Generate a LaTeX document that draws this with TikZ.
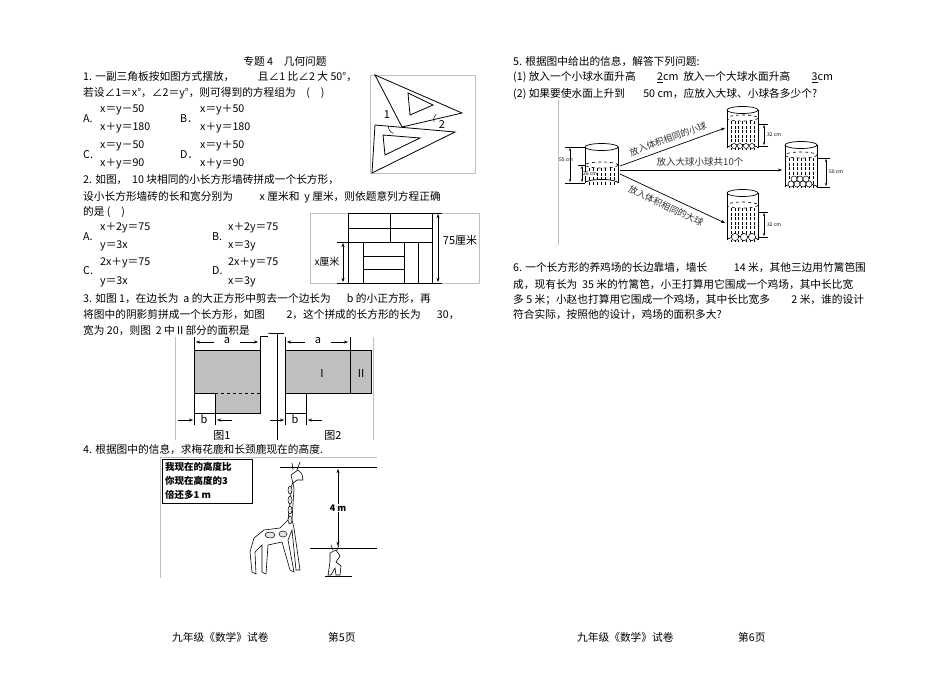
\documentclass[tikz,border=0pt]{standalone}
\usepackage{fontspec}
\setmainfont{Noto Sans CJK SC}
\newfontfamily\serifcn{Noto Sans CJK SC}
\usetikzlibrary{arrows.meta}
\begin{document}
\begin{tikzpicture}[x=1pt,y=-1pt,
  txt/.style={anchor=west,inner sep=0pt,font=\fontsize{10.7}{12}\selectfont},
  sm/.style={inner sep=0pt,font=\fontsize{8}{9}\selectfont},
  tiny/.style={inner sep=0pt,font=\fontsize{5}{6}\selectfont},
  fig/.style={line width=0.8pt},
  frame/.style={draw=black!25,line width=0.4pt},
  dim/.style={-{Stealth[length=4pt]},line width=0.5pt}]
\useasboundingbox (0,0) rectangle (950,672);
\fill[white] (0,0) rectangle (950,672);
% ---------- left page ----------
\node[txt,anchor=center] (title) at (285,61) {专题 4\quad 几何问题};
\node[txt] (q1a) at (83,77) {1. 一副三角板按如图方式摆放，\hspace{2.2em}且∠1 比∠2 大 50°，};
\node[txt] (q1b) at (83,93) {若设∠1＝x°，∠2＝y°，则可得到的方程组为\quad (\quad)};
\node[txt] (oA) at (83,119) {A.}; \node[txt] at (100,110) {x＝y－50}; \node[txt] at (100,128) {x＋y＝180};
\node[txt] (oB) at (180,119) {B．}; \node[txt] at (200,110) {x＝y＋50}; \node[txt] at (200,128) {x＋y＝180};
\node[txt] (oC) at (83,155) {C.}; \node[txt] at (100,146) {x＝y－50}; \node[txt] at (100,164) {x＋y＝90};
\node[txt] (oD) at (180,155) {D．}; \node[txt] at (200,146) {x＝y＋50}; \node[txt] at (200,164) {x＋y＝90};
% triangles
\draw[frame] (370,75) rectangle (475,173);
\draw[fig] (375,75) -- (462,113) -- (402,127) -- cycle;
\draw[fig] (408,93) -- (433,105) -- (410,115) -- cycle;
\draw[fill=white,fig] (375,125) -- (455,132) -- (372,173) -- cycle;
\draw[fig] (383,135) -- (420,138) -- (385,155) -- cycle;
\draw[line width=0.5pt] (388,126) arc[start angle=180,end angle=110,radius=8];
\draw[line width=0.5pt] (434,122) arc[start angle=160,end angle=230,radius=7];
\node[sm,font=\serifcn\fontsize{11}{12}\selectfont] (l1) at (387,115) {1};
\node[sm,font=\serifcn\fontsize{11}{12}\selectfont] (l2) at (442,125) {2};
% Q2
\node[txt] (q2a) at (83,180) {2. 如图，\ \ 10 块相同的小长方形墙砖拼成一个长方形，};
\node[txt] (q2b) at (83,197) {设小长方形墙砖的长和宽分别为\hspace{2.5em}x 厘米和\ \ y 厘米，则依题意列方程正确};
\node[txt] (q2c) at (83,212) {的是 (\quad)};
\node[txt] at (83,237) {A.}; \node[txt] at (100,228) {x＋2y＝75}; \node[txt] at (100,246) {y＝3x};
\node[txt] at (212,237) {B.}; \node[txt] at (228,228) {x＋2y＝75}; \node[txt] at (228,246) {x＝3y};
\node[txt] at (83,271) {C.}; \node[txt] at (100,263) {2x＋y＝75}; \node[txt] at (100,282) {y＝3x};
\node[txt] at (212,271) {D.}; \node[txt] at (228,263) {2x＋y＝75}; \node[txt] at (228,282) {x＝3y};
\draw[frame] (310,213) rectangle (479,283);
\draw[line width=0.7pt] (348,213) rectangle (432,283);
\draw[line width=0.7pt] (348,228) -- (432,228) (348,242) -- (432,242) (390,213) -- (390,242);
\draw[line width=0.7pt] (363,242) -- (363,283) (404,242) -- (404,283) (418,242) -- (418,283);
\draw[line width=0.7pt] (363,256) -- (404,256) (363,269) -- (404,269);
\draw[line width=0.5pt] (432,213) -- (442,213) (432,283) -- (442,283) (337,242) -- (348,242) (337,283) -- (348,283);
\draw[dim,{Stealth[length=4pt]}-{Stealth[length=4pt]}] (438,214) -- (438,282);
\draw[dim,{Stealth[length=4pt]}-{Stealth[length=4pt]}] (343,243) -- (343,282);
\node[sm,font=\serifcn\fontsize{11}{12}\selectfont] (l75) at (460,240) {75厘米};
\node[sm,font=\serifcn\fontsize{10}{12}\selectfont] (lx) at (327,262) {\textit{x}厘米};
% Q3
\node[txt] (q3a) at (83,299) {3. 如图 1，在边长为\ \ a 的大正方形中剪去一个边长为\hspace{1.5em}b 的小正方形，再};
\node[txt] (q3b) at (83,315) {将图中的阴影剪拼成一个长方形，如图\hspace{2em}2，这个拼成的长方形的长为\hspace{1.5em}30，};
\node[txt] (q3c) at (83,331) {宽为 20，则图\ \ 2 中Ⅱ部分的面积是\quad\underline{\ \ \ }.};
\draw[frame] (175,337) -- (175,440) (373,337) -- (373,440);
\fill[black!25] (194,350) rectangle (260,393) (215,393) rectangle (260,413);
\draw[line width=0.7pt] (194,350) -- (260,350) -- (260,413) -- (194,413) -- (194,350);
\draw[line width=0.7pt] (194,393) -- (215,393) (215,393) -- (215,425);
\draw[line width=0.7pt,dashed] (215,393) -- (260,393);
\draw[line width=0.7pt] (194,337) -- (194,425) (260,337) -- (260,350);
\draw[dim] (214,342) -- (196,342); \draw[dim] (240,342) -- (258,342);
\node[sm,font=\serifcn\itshape\fontsize{11}{12}\selectfont] (la1) at (227,341) {a};
\draw[dim] (178,420) -- (193,420); \draw[dim] (232,420) -- (217,420);
\node[sm,font=\serifcn\itshape\fontsize{11}{12}\selectfont] (lb1) at (204,419) {b};
\node[sm,font=\serifcn\fontsize{11}{12}\selectfont] (f1) at (222,436) {图1};
\draw[line width=0.7pt] (270,333) -- (284,333);
\draw[line width=0.4pt] (277,333) -- (277,440);
\fill[black!25] (285,350) rectangle (371,393);
\draw[line width=0.7pt] (285,350) rectangle (371,393) (350,350) -- (350,393);
\draw[line width=0.7pt] (285,337) -- (285,425) (350,337) -- (350,350) (306,393) -- (306,413) -- (285,413) (306,413) -- (306,425);
\draw[dim] (305,342) -- (287,342); \draw[dim] (331,342) -- (348,342);
\node[sm,font=\serifcn\itshape\fontsize{11}{12}\selectfont] (la2) at (318,341) {a};
\node[sm,font=\serifcn\fontsize{11}{12}\selectfont] (lI) at (322,373) {I};
\node[sm,font=\serifcn\fontsize{11}{12}\selectfont] (lII) at (361,373) {II};
\draw[dim] (270,420) -- (284,420); \draw[dim] (322,420) -- (308,420);
\node[sm,font=\serifcn\itshape\fontsize{11}{12}\selectfont] (lb2) at (295,419) {b};
\node[sm,font=\serifcn\fontsize{11}{12}\selectfont] (f2) at (333,436) {图2};
% Q4
\node[txt] (q4) at (83,450) {4. 根据图中的信息，求梅花鹿和长颈鹿现在的高度.};
\draw[frame] (160,457) -- (377,457) (160,457) -- (160,578);
\draw[line width=0.8pt] (162,459) rectangle (252,503);
\node[anchor=west,inner sep=0pt,font=\bfseries\fontsize{9.5}{10}\selectfont] (s1) at (165,467) {我现在的高度比};
\node[anchor=west,inner sep=0pt,font=\bfseries\fontsize{9.5}{10}\selectfont] (s2) at (165,481) {你现在高度的3};
\node[anchor=west,inner sep=0pt,font=\bfseries\fontsize{9.5}{10}\selectfont] (s3) at (165,495) {倍还多1 m};
\draw[line width=0.7pt] (280,467) -- (377,467) (310,548) -- (377,548) (325,576) -- (352,576);
\node[sm,font=\bfseries\fontsize{9}{10}\selectfont,fill=white,inner sep=1pt] (l4m) at (338,508) {4 m};
\draw[dim] (l4m) -- (338,469); \draw[dim] (l4m) -- (338,546);
% giraffe
\draw[line width=0.6pt,fill=white] (291,475) -- (298,470) -- (302,474) -- (303,480) -- (297,480) -- (292,484)
  -- (288,520) -- (280,528) -- (264,530) -- (254,538) -- (250,552) -- (252,572) -- (256,574) -- (255,552) -- (262,545)
  -- (262,572) -- (266,574) -- (268,545) -- (282,542) -- (290,570) -- (294,572) -- (288,540) -- (292,530) -- (296,570)
  -- (300,570) -- (294,528) -- (292,520) -- (294,488) -- cycle;
\draw[line width=0.6pt] (293,470) -- (292,463) (297,470) -- (300,462);
\foreach \yy in {490,500,510,520} \draw[line width=0.5pt,fill=black!10] (290,\yy) ellipse (2pt and 4pt);
\draw[line width=0.5pt,fill=black!10] (270,535) ellipse (5pt and 3pt) (283,534) ellipse (4pt and 3pt);
% deer
\draw[line width=0.6pt,fill=white] (330,553) -- (336,550) -- (340,556) -- (336,562) -- (341,566) -- (340,575) -- (336,575) -- (335,568) -- (331,575) -- (328,575) -- (330,562) -- cycle;
\draw[line width=0.6pt] (333,550) -- (331,545) (337,550) -- (339,545);
% ---------- right page ----------
\node[txt] (q5a) at (513,62) {5. 根据图中给出的信息，解答下列问题:};
\node[txt] (q5b) at (513,77) {(1) 放入一个小球水面升高\hspace{2em}\underline{2}cm\ \ 放入一个大球水面升高\hspace{2em}\underline{3}cm};
\node[txt] (q5c) at (513,94) {(2) 如果要使水面上升到\hspace{1.7em}50 cm，应放入大球、小球各多少个?};
\draw[frame] (558,100) -- (558,245);
\newcommand{\cyl}[5]{% x1 x2 ytop ybot ywater
  \draw[line width=0.7pt] (#1,#3) -- (#1,#4) (#2,#3) -- (#2,#4);
  \draw[line width=0.7pt] ({(#1+#2)/2},#3) ellipse ({(#2-#1)/2} and 3.5);
  \draw[line width=0.7pt] (#2,#4) arc[start angle=0,end angle=-180,x radius={(#2-#1)/2},y radius=3.5];
  \draw[line width=0.6pt,dashed] ({(#1+#2)/2},#5) ellipse ({(#2-#1)/2} and 3);
  \draw[line width=0.5pt,dash pattern=on 3pt off 1.5pt] \foreach \k in {1,...,7} {({#1+\k*(#2-#1)/8},{#5+3}) -- ({#1+\k*(#2-#1)/8},{#4+2})};
}
\cyl{585}{618}{147}{183}{165}
\cyl{727}{758}{110}{148}{118}
\cyl{785}{817}{145}{187}{155}
\cyl{727}{758}{193}{240}{205}
\foreach \xx in {734,740,746,752} \draw[fill=white,line width=0.5pt] (\xx,146) circle (2.5);
\foreach \xx in {791,797,803,809} \draw[fill=white,line width=0.5pt] (\xx,184) circle (3);
\foreach \xx in {794,800,806} \draw[fill=white,line width=0.5pt] (\xx,179) circle (3);
\foreach \xx in {735,744,752} \draw[fill=white,line width=0.5pt] (\xx,237) circle (3.6);
\draw[line width=0.4pt] (565,147) -- (585,147) (565,183) -- (585,183) (578,165) -- (585,165);
\draw[{Stealth[length=3pt]}-{Stealth[length=3pt]},line width=0.4pt] (570,148) -- (570,182);
\draw[{Stealth[length=3pt]}-{Stealth[length=3pt]},line width=0.4pt] (582,166) -- (582,182);
\node[tiny] (c55) at (566,160) {55 cm}; \node[tiny,fill=white] (c26) at (590,174) {26 cm};
\draw[line width=0.4pt] (758,124) -- (768,124) (758,146) -- (768,146) (758,212) -- (768,212) (758,237) -- (768,237) (817,158) -- (830,158) (817,187) -- (830,187);
\draw[{Stealth[length=3pt]}-{Stealth[length=3pt]},line width=0.4pt] (764,125) -- (764,145);
\draw[{Stealth[length=3pt]}-{Stealth[length=3pt]},line width=0.4pt] (764,213) -- (764,236);
\draw[{Stealth[length=3pt]}-{Stealth[length=3pt]},line width=0.4pt] (826,159) -- (826,186);
\node[tiny,anchor=west] (c32a) at (767,135) {32 cm};
\node[tiny,anchor=west] (c32b) at (767,225) {32 cm};
\node[tiny,anchor=west] (c50) at (829,172) {50 cm};
\draw[dim,line width=0.7pt] (620,166) -- (725,128);
\draw[dim,line width=0.7pt] (620,170) -- (782,170);
\draw[dim,line width=0.7pt] (620,174) -- (725,223);
\node[sm,font=\fontsize{9}{10}\selectfont,rotate=20,text=black!80] (t1) at (668,139) {放入体积相同的小球};
\node[sm,font=\fontsize{9.5}{10}\selectfont,text=black!80] (t2) at (700,162) {放入大球小球共10个};
\node[sm,font=\fontsize{9}{10}\selectfont,rotate=-25,text=black!80] (t3) at (666,206) {放入体积相同的大球};
% Q6
\node[txt] (q6a) at (513,268) {6. 一个长方形的养鸡场的长边靠墙，墙长\hspace{2.5em}14 米，其他三边用竹篱笆围};
\node[txt] (q6b) at (513,285) {成，现有长为\ \ 35 米的竹篱笆，小王打算用它围成一个鸡场，其中长比宽};
\node[txt] (q6c) at (513,300) {多 5 米；小赵也打算用它围成一个鸡场，其中长比宽多\hspace{2em}2 米，谁的设计};
\node[txt] (q6d) at (513,315) {符合实际，按照他的设计，鸡场的面积多大?};
% footers
\node[txt] (fl) at (172,637) {九年级《数学》试卷};
\node[txt] (fl2) at (328,637) {第5页};
\node[txt] (fr) at (577,637) {九年级《数学》试卷};
\node[txt] (fr2) at (738,637) {第6页};
\end{tikzpicture}
\end{document}
